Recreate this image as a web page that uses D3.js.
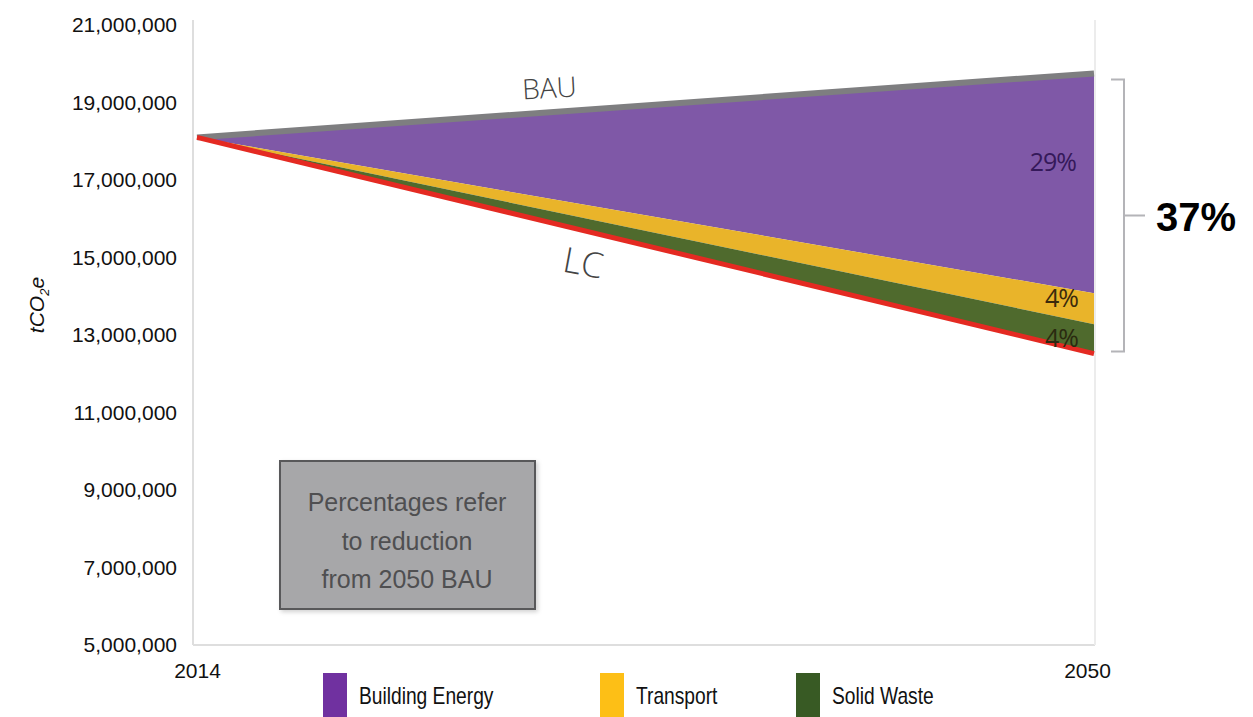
<!DOCTYPE html>
<html>
<head>
<meta charset="utf-8">
<script src="https://cdn.jsdelivr.net/npm/d3@7"></script>
<style>
  html, body { margin: 0; padding: 0; background: #ffffff; }
  svg { display: block; }
</style>
</head>
<body>
<svg id="chart" width="1253" height="717"></svg>
<script>
// Emission pathways, tCO2e
const years = [2014, 2050];
const bau = [18100000, 19750000];            // business as usual
const buildingEnergyCut = [0, 5670000];      // reduction from building energy
const transportCut = [0, 800000];            // reduction from transport
const solidWasteCut = [0, 760000];           // reduction from solid waste
const yTicks = [5000000, 7000000, 9000000, 11000000, 13000000, 15000000, 17000000, 19000000, 21000000];
const legendLabels = ["Building Energy", "Transport", "Solid Waste"];
const noteLines = ["Percentages refer", "to reduction", "from 2050 BAU"];

const svg = d3.select("#chart");
const x = d3.scaleLinear().domain([2014, 2050]).range([197, 1094]);
const y = d3.scaleLinear().domain([5000000, 21000000]).range([645, 25]);

// stacked levels below BAU
const rows = years.map((yr, i) => {
  const l1 = bau[i] - buildingEnergyCut[i];
  const l2 = l1 - transportCut[i];
  const l3 = l2 - solidWasteCut[i];
  return { yr, bau: bau[i], l1, l2, lc: l3 };
});

const fill = { building: "#7f58a7", transport: "#e9b42a", waste: "#4f6a2d" };
const swatch = ["#7031a0", "#fdbf16", "#385a24"];

// plot frame
const frame = svg.append("g").attr("stroke", "#dedede").attr("stroke-width", 2).attr("fill", "none");
frame.append("line").attr("x1", 193).attr("x2", 193).attr("y1", 20).attr("y2", 645);
frame.append("line").attr("x1", 193).attr("x2", 1095).attr("y1", 645).attr("y2", 645);
frame.append("line").attr("x1", 1095).attr("x2", 1095).attr("y1", 20).attr("y2", 645).attr("stroke", "#ececec");

// y axis
const yAxis = svg.append("g")
  .attr("transform", "translate(193,0)")
  .call(d3.axisLeft(y).tickValues(yTicks).tickFormat(d3.format(",")).tickSize(0).tickPadding(16));
yAxis.select(".domain").remove();
yAxis.selectAll("text")
  .attr("font-family", "'Liberation Sans', Arial, Helvetica, sans-serif")
  .attr("font-size", 21).attr("fill", "#111");

// x axis (end years only)
const xAxis = svg.append("g")
  .attr("transform", "translate(0,645)")
  .call(d3.axisBottom(x).tickValues(years).tickFormat(d3.format("d")).tickSize(0).tickPadding(18));
xAxis.select(".domain").remove();
xAxis.selectAll("text")
  .attr("font-family", "'Liberation Sans', Arial, Helvetica, sans-serif")
  .attr("font-size", 21).attr("fill", "#111");
xAxis.selectAll(".tick").filter(d => d === 2050).select("text").attr("dx", -7);

// y axis title
const yt = svg.append("text")
  .attr("transform", "translate(44,305) rotate(-90)")
  .attr("text-anchor", "middle")
  .attr("font-family", "'Liberation Sans', Arial, Helvetica, sans-serif")
  .attr("font-style", "italic").attr("font-size", 21).attr("fill", "#111");
yt.append("tspan").text("tCO");
yt.append("tspan").text("2").attr("font-size", 13).attr("dy", 5);
yt.append("tspan").text("e").attr("dy", -5);

// reduction wedges
const band = (top, bottom) => d3.area().x(d => x(d.yr)).y0(d => y(d[bottom])).y1(d => y(d[top]));
svg.append("path").datum(rows).attr("d", band("bau", "l1")).attr("fill", fill.building);
svg.append("path").datum(rows).attr("d", band("l1", "l2")).attr("fill", fill.transport);
svg.append("path").datum(rows).attr("d", band("l2", "lc")).attr("fill", fill.waste);

// BAU and LC pathway lines
svg.append("path").datum(rows)
  .attr("d", d3.line().x(d => x(d.yr)).y(d => y(d.bau)))
  .attr("fill", "none").attr("stroke", "#7e7e80").attr("stroke-width", 6);
svg.append("path").datum(rows)
  .attr("d", d3.line().x(d => x(d.yr)).y(d => y(d.lc)))
  .attr("fill", "none").attr("stroke", "#e42a22").attr("stroke-width", 5);

// pathway names
const nameFont = "'Open Sans', 'Noto Sans', sans-serif";
const angle = (a) => Math.atan2(y(rows[1][a]) - y(rows[0][a]), x(2050) - x(2014)) * 180 / Math.PI;
svg.append("text").text("BAU")
  .attr("transform", `translate(550,98) rotate(${angle("bau") + 1})`)
  .attr("text-anchor", "middle").attr("font-family", nameFont).attr("font-weight", 300)
  .attr("font-size", 28).attr("fill", "#444");
svg.append("text").text("LC")
  .attr("transform", `translate(581,275) rotate(${angle("lc") - 3})`)
  .attr("text-anchor", "middle").attr("font-family", nameFont).attr("font-weight", 300)
  .attr("font-size", 35).attr("fill", "#444");

// reduction percentages at 2050
const last = rows[rows.length - 1];
const pct = d3.format(".0%");
const pctFont = "'Open Sans', 'Noto Sans', sans-serif";
svg.append("text").text(pct(buildingEnergyCut[1] / last.bau))
  .attr("x", 1076).attr("y", 171).attr("text-anchor", "end")
  .attr("font-family", pctFont).attr("font-size", 25).attr("fill", "#35195a").attr("letter-spacing", -1);
svg.append("text").text(pct(transportCut[1] / last.bau))
  .attr("x", 1078).attr("y", 307).attr("text-anchor", "end")
  .attr("font-family", pctFont).attr("font-size", 25).attr("fill", "#3b2a0c").attr("letter-spacing", -1);
svg.append("text").text(pct(solidWasteCut[1] / last.bau))
  .attr("x", 1078).attr("y", 347).attr("text-anchor", "end")
  .attr("font-family", pctFont).attr("font-size", 25).attr("fill", "#2a2a10").attr("letter-spacing", -1);

// bracket for total reduction
const bTop = y(last.bau) + 6, bBot = y(last.lc) - 2, bMid = (bTop + bBot) / 2;
svg.append("path")
  .attr("d", `M1111,${bTop} H1124 V${bBot} H1111 M1124,${bMid} H1145`)
  .attr("fill", "none").attr("stroke", "#b4b4b8").attr("stroke-width", 2);
const total = buildingEnergyCut[1] + transportCut[1] + solidWasteCut[1];
svg.append("text").text(pct(total / last.bau))
  .attr("x", 1156).attr("y", bMid + 15)
  .attr("font-family", "'Liberation Sans', Arial, Helvetica, sans-serif")
  .attr("font-weight", "bold").attr("font-size", 40).attr("fill", "#000");

// note box
const defs = svg.append("defs");
const sh = defs.append("filter").attr("id", "shadow").attr("x", "-10%").attr("y", "-10%").attr("width", "130%").attr("height", "130%");
sh.append("feDropShadow").attr("dx", 2).attr("dy", 2).attr("stdDeviation", 2).attr("flood-color", "#000").attr("flood-opacity", 0.18);
svg.append("rect").attr("x", 280).attr("y", 461).attr("width", 255).attr("height", 148)
  .attr("fill", "#a7a7a9").attr("stroke", "#58585a").attr("stroke-width", 2).attr("filter", "url(#shadow)");
svg.append("g").selectAll("text").data(noteLines).join("text")
  .text(d => d)
  .attr("x", 407).attr("y", (d, i) => 511 + i * 38.5)
  .attr("text-anchor", "middle")
  .attr("font-family", "'Liberation Sans', Arial, Helvetica, sans-serif")
  .attr("font-size", 25).attr("fill", "#4f4f51");

// legend
const legendX = [323, 600, 796];
const lg = svg.append("g").selectAll("g").data(legendLabels).join("g")
  .attr("transform", (d, i) => `translate(${legendX[i]},0)`);
lg.append("rect").attr("x", 0).attr("y", 673).attr("width", 24).attr("height", 50)
  .attr("fill", (d, i) => swatch[i]);
lg.append("text").text(d => d)
  .attr("transform", "translate(36,704) scale(0.8,1)")
  .attr("font-family", "'Liberation Sans', Arial, Helvetica, sans-serif")
  .attr("font-size", 24).attr("fill", "#111");
</script>
</body>
</html>
